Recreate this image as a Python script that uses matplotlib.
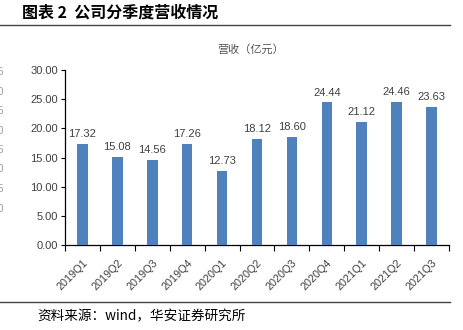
import matplotlib
matplotlib.use("Agg")
import matplotlib.pyplot as plt
from matplotlib.lines import Line2D

categories = ["2019Q1", "2019Q2", "2019Q3", "2019Q4", "2020Q1", "2020Q2",
              "2020Q3", "2020Q4", "2021Q1", "2021Q2", "2021Q3"]
revenue = [17.32, 15.08, 14.56, 17.26, 12.73, 18.12, 18.60, 24.44, 21.12, 24.46, 23.63]
yticks = [0, 5, 10, 15, 20, 25, 30]

plt.rcParams['font.family'] = ['Liberation Sans', 'Noto Sans CJK SC', 'DejaVu Sans']
cjk = ['Noto Sans CJK SC', 'DejaVu Sans']

W, H = 463, 330
fig = plt.figure(figsize=(W / 100, H / 100), dpi=100)
ax = fig.add_axes([65 / W, 1 - 245 / H, (449 - 65) / W, (245 - 70) / H])

x = list(range(len(categories)))
ax.bar(x, revenue, width=0.3, color='#4F81BD', zorder=3)
for xi, v in zip(x, revenue):
    ax.annotate(f"{v:.2f}", (xi, v), xytext=(0, 3.5), textcoords='offset points',
                ha='center', va='bottom', fontsize=8, color='#404040')

ax.set_xlim(-0.5, len(categories) - 0.5)
ax.set_ylim(0, 30)
ax.set_yticks(yticks)
ax.set_yticklabels([f"{t:.2f}" for t in yticks], fontsize=8, color='#404040')
ax.set_xticks([i - 0.5 for i in range(len(categories) + 1)])
ax.set_xticklabels([])
ax.set_xticks(x, minor=True)
ax.set_xticklabels(categories, minor=True, rotation=45, ha='right', va='top',
                   rotation_mode='anchor', fontsize=7.8, color='#404040')
ax.tick_params(axis='x', which='minor', length=0, pad=9)
ax.tick_params(axis='x', which='major', length=4, direction='out', color='black', width=0.8)
ax.tick_params(axis='y', length=3, direction='out', width=0.8, pad=2)
for s in ['top', 'right']:
    ax.spines[s].set_visible(False)
for s in ['left', 'bottom']:
    ax.spines[s].set_linewidth(0.9)

# Header and footer
fig.text(22 / W, 1 - 13 / H, "图表 2  公司分季度营收情况", family=cjk, fontsize=11.5,
         fontweight='bold', va='center', ha='left', color='black')
fig.add_artist(Line2D([0, 450 / W], [1 - 25 / H, 1 - 25 / H], color='#444444', lw=1.0))
fig.text(251 / W, 1 - 49 / H, "营收（亿元）", family=cjk, fontsize=8,
         va='center', ha='center', color='#555555')
fig.add_artist(Line2D([0, 450 / W], [1 - 302 / H, 1 - 302 / H], color='#444444', lw=1.0))
fig.text(37 / W, 1 - 316 / H, "资料来源：wind，华安证券研究所", family=cjk, fontsize=9.8,
         va='center', ha='left', color='black')

# faint clipped digits at left edge (partially visible in the reference)
ghost = ["5", "0", "5", "0", "5", "0", "5", "0"]
for i, g in enumerate(ghost):
    fig.text(-2 / W, 1 - (72 + i * 19.5) / H, g, fontsize=7, color='#999999',
             va='center', ha='left')

fig.savefig("out.png", dpi=100)
